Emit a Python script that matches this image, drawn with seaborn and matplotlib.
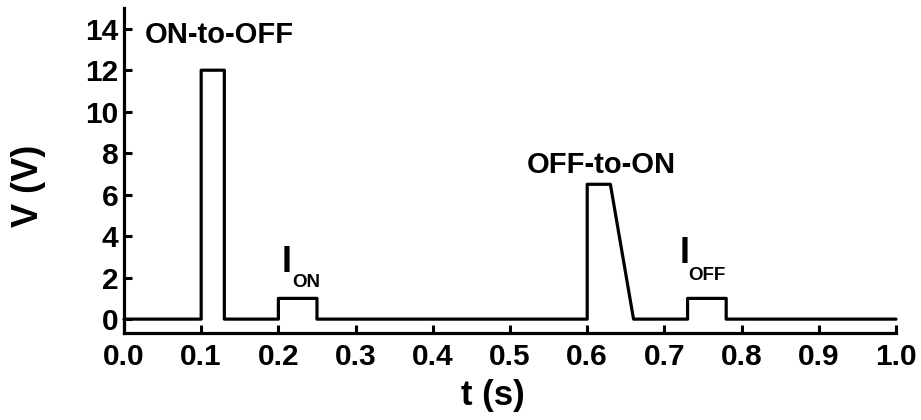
import matplotlib
matplotlib.use("Agg")
import matplotlib.pyplot as plt
import seaborn as sns
import pandas as pd

# Voltage waveform: write pulse, read pulse, erase pulse, read pulse
t_s = [0.0, 0.10, 0.10, 0.13, 0.13, 0.20, 0.20, 0.25, 0.25,
       0.60, 0.60, 0.63, 0.66, 0.73, 0.73, 0.78, 0.78, 1.0]
v_volt = [0, 0, 12, 12, 0, 0, 1, 1, 0,
          0, 6.5, 6.5, 0, 0, 1, 1, 0, 0]

x_ticks = [0.0, 0.1, 0.2, 0.3, 0.4, 0.5, 0.6, 0.7, 0.8, 0.9, 1.0]
y_ticks = [0, 2, 4, 6, 8, 10, 12, 14]

sns.set_style("ticks", {"axes.edgecolor": "black", "text.color": "black",
                        "axes.labelcolor": "black", "xtick.color": "black",
                        "ytick.color": "black"})
plt.rcParams["font.family"] = ["Liberation Sans", "DejaVu Sans"]
plt.rcParams["font.weight"] = "bold"

df = pd.DataFrame({"t": t_s, "V": v_volt})

fig = plt.figure(figsize=(9.21, 4.2), dpi=100)
ax = fig.add_axes([0.1346, 0.2071, 0.8383, 0.7739])

sns.lineplot(data=df, x="t", y="V", sort=False, estimator=None,
             color="black", linewidth=2.3, ax=ax, clip_on=False)

ax.set_xlim(0, 1.0)
ax.set_ylim(-0.67, 15)
ax.set_xticks(x_ticks)
ax.set_xticklabels([f"{v:.1f}" for v in x_ticks], fontsize=21.5, fontweight="bold")
ax.set_yticks(y_ticks)
ax.set_yticklabels([str(v) for v in y_ticks], fontsize=21.5, fontweight="bold")

for side in ("top", "right"):
    ax.spines[side].set_visible(False)
for side in ("left", "bottom"):
    ax.spines[side].set_linewidth(2.3)
    ax.spines[side].set_color("black")
ax.tick_params(axis="both", direction="in", length=6, width=2.2,
               color="black", labelcolor="black")
ax.tick_params(axis="x", pad=7)
ax.tick_params(axis="y", pad=4)

ax.set_xlabel("t (s)", fontsize=25, fontweight="bold", labelpad=0, color="black")
ax.set_ylabel("V (V)", fontsize=26, fontweight="bold", color="black")
ax.xaxis.set_label_coords(0.478, -0.142)
ax.yaxis.set_label_coords(-0.101, 0.452)

# Pulse annotations
txt = dict(va="baseline", fontweight="bold", color="black")
ax.text(0.124, 13.3, "ON-to-OFF", ha="center", fontsize=21, **txt)
ax.text(0.6186, 7.04, "OFF-to-ON", ha="center", fontsize=21, **txt)
ax.text(0.2045, 2.27, "I", ha="left", fontsize=26, **txt)
ax.text(0.2176, 1.54, "ON", ha="left", fontsize=13.5, **txt)
ax.text(0.7200, 2.70, "I", ha="left", fontsize=26, **txt)
ax.text(0.7306, 1.88, "OFF", ha="left", fontsize=13.5, **txt)

fig.savefig("out.png", dpi=100)
